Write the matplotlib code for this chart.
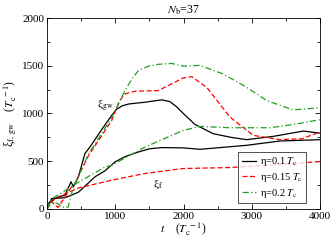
import numpy as np
import matplotlib
matplotlib.use("Agg")
import matplotlib.pyplot as plt

plt.rcParams['font.family'] = ['Liberation Serif', 'DejaVu Serif']
plt.rcParams['mathtext.fontset'] = 'stix'

# eta = 0.1 Tc (black)
t_gw1 = [0, 20, 117, 264, 352, 386, 459, 557, 630, 800, 948, 1020, 1100, 1200, 1436, 1680, 1800, 1900, 1997, 2168, 2437, 2700, 2926, 3311, 3756, 4000]
xi_gw1 = [0, 59, 111, 146, 285, 233, 337, 583, 650, 830, 980, 1045, 1080, 1100, 1118, 1143, 1125, 1070, 1000, 885, 788, 750, 726, 760, 816, 795]
t_f1 = [0, 68, 264, 459, 703, 850, 996, 1150, 1338, 1500, 1680, 1997, 2242, 2926, 3414, 4000]
xi_f1 = [0, 110, 118, 175, 337, 400, 493, 550, 597, 630, 643, 640, 625, 667, 712, 726]

# eta = 0.15 Tc (red)
t_gw2 = [0, 60, 161, 264, 361, 410, 605, 948, 1060, 1143, 1289, 1631, 1850, 1997, 2120, 2340, 2681, 3023, 3414, 3736, 4000]
xi_gw2 = [0, 80, 15, 125, 233, 268, 555, 927, 1130, 1205, 1233, 1240, 1320, 1372, 1386, 1274, 962, 771, 726, 736, 806]
t_f2 = [0, 117, 166, 459, 850, 948, 1436, 1997, 2681, 3414, 4000]
xi_f2 = [0, 111, 128, 220, 285, 302, 372, 424, 434, 465, 497]

# eta = 0.2 Tc (green)
t_gw3 = [0, 50, 150, 220, 310, 386, 410, 605, 948, 1143, 1250, 1338, 1480, 1631, 1827, 1997, 2242, 2583, 2926, 3219, 3609, 4000]
xi_gw3 = [0, 70, 60, 20, 20, 233, 268, 570, 958, 1240, 1370, 1448, 1495, 1515, 1524, 1495, 1504, 1413, 1274, 1135, 1038, 1060]
t_f3 = [0, 68, 459, 850, 948, 1436, 1997, 2242, 2681, 3267, 3609, 4000]
xi_f3 = [0, 104, 280, 440, 458, 649, 823, 865, 851, 851, 885, 935]

labels = [r"η=0.1 $T_{\rm c}$", r"η=0.15 $T_{\rm c}$", r"η=0.2 $T_{\rm c}$"]

fig = plt.figure(figsize=(3.32, 2.41), dpi=100)
ax = fig.add_axes([0.1416, 0.1328, 0.8223, 0.7925])

lw = 0.9
green = '#22a022'
ax.plot(t_gw1, xi_gw1, color='black', lw=lw, label=labels[0])
ax.plot(t_f1, xi_f1, color='black', lw=lw)
ax.plot(t_gw2, xi_gw2, color='red', lw=lw, dashes=(4, 2), label=labels[1])
ax.plot(t_f2, xi_f2, color='red', lw=lw, dashes=(4, 2))
ax.plot(t_gw3, xi_gw3, color=green, lw=lw, dashes=(5, 2, 1, 2), label=labels[2])
ax.plot(t_f3, xi_f3, color=green, lw=lw, dashes=(5, 2, 1, 2))

ax.set_xlim(0, 4000)
ax.set_ylim(0, 2000)
ax.set_xticks([0, 1000, 2000, 3000, 4000])
ax.set_xticks([500, 1500, 2500, 3500], minor=True)
ax.set_yticks([0, 500, 1000, 1500, 2000])
ax.set_yticks([250, 750, 1250, 1750], minor=True)
ax.tick_params(which='both', direction='in', top=True, right=True, labelsize=8, width=0.6, pad=2)
ax.tick_params(which='major', length=3.5)
ax.tick_params(which='minor', length=2)
for s in ax.spines.values():
    s.set_linewidth(0.6)

ax.set_title(r"$N_{\rm b}$=37", fontsize=8.5, pad=3)
ax.set_xlabel(r"$t$    ($T_{\rm c}^{\ -1}$)", fontsize=8.5, labelpad=0)
ax.set_ylabel(r"ξ$_{\rm f,\ gw}$    ($T_{\rm c}^{\ -1}$)", fontsize=8.5, labelpad=2)

ax.text(730, 1060, r"ξ$_{\rm gw}$", fontsize=8)
ax.text(1550, 230, r"ξ$_{\rm f}$", fontsize=8)

leg = ax.legend(loc='lower right', bbox_to_anchor=(0.949, 0.03), fontsize=7.5, frameon=True,
                fancybox=False, edgecolor='black', handlelength=1.3, handletextpad=0.4,
                borderpad=0.35, labelspacing=0.25, borderaxespad=0)
leg.get_frame().set_linewidth(0.6)

fig.savefig("out.png", dpi=100)
